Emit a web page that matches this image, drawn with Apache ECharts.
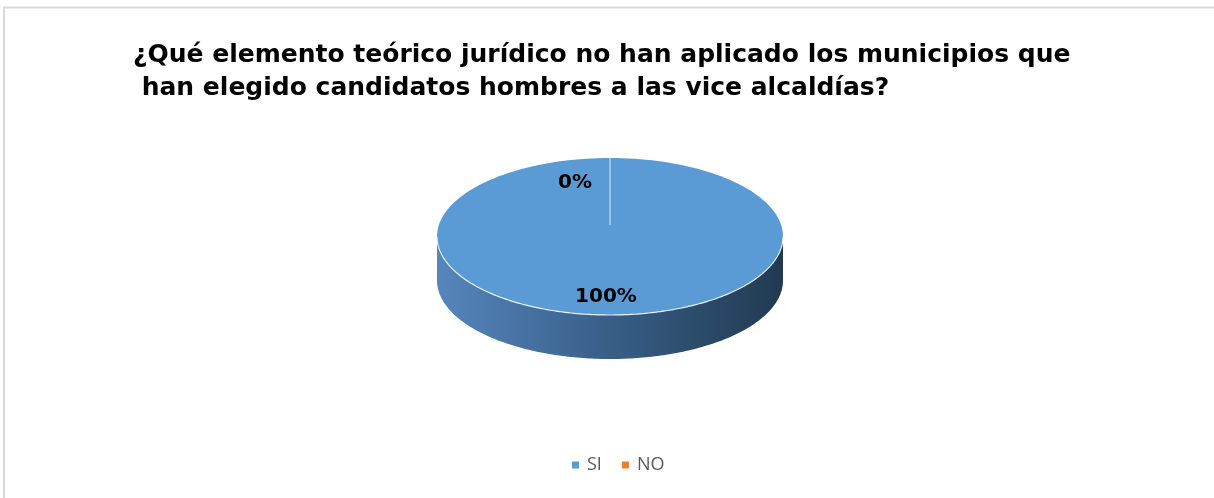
<!DOCTYPE html>
<html><head><meta charset="utf-8">
<script src="https://cdn.jsdelivr.net/npm/echarts@6.0.0/dist/echarts.min.js"></script>
<style>html,body{margin:0;padding:0;background:#fff}#c{width:1214px;height:498px}</style>
</head><body><div id="c"></div>
<script>
// ---- data ----
const titleLines = ['¿Qué elemento teórico jurídico no han aplicado los municipios que', ' han elegido candidatos hombres a las vice alcaldías?'];
const categories = ['SI', 'NO'];
const values = [100, 0];
const colors = ['#5b9bd5', '#ed7d31'];

// ---- derived ----
const total = values.reduce((a, b) => a + b, 0);
const starts = [];
let acc = 0;
values.forEach(v => { starts.push(acc); acc += v; });

// pseudo-3D pie geometry (layout only)
const G = { cx: 610, cy: 236.5, rx: 173, ry: 78.5, pcy: 225, depth: 44 };
function rim(phi, dy) {
  return [G.cx + G.rx * Math.sin(phi), G.cy - G.ry * Math.cos(phi) + (dy || 0)];
}
const sideGradient = {
  type: 'linear', x: G.cx - G.rx, y: 0, x2: G.cx + G.rx, y2: 0, global: true,
  colorStops: [
    { offset: 0, color: '#5586bd' },
    { offset: 0.5, color: '#385e87' },
    { offset: 1, color: '#213a51' }
  ]
};

function makeRender(i) {
  return function (params, api) {
    const v = api.value(0);
    const a0 = starts[i] / total * 2 * Math.PI;
    const a1 = (starts[i] + v) / total * 2 * Math.PI;
    const children = [];
    const n = 180;
    // side (front half only)
    const s0 = Math.max(a0, Math.PI / 2), s1 = Math.min(a1, 3 * Math.PI / 2);
    let frontTop = null;
    if (s1 > s0) {
      const top = [], bot = [];
      for (let k = 0; k <= n; k++) {
        const p = s0 + (s1 - s0) * k / n;
        top.push(rim(p)); bot.push(rim(p, G.depth));
      }
      frontTop = top;
      children.push({ type: 'polygon', shape: { points: top.concat(bot.slice().reverse()) },
        style: { fill: sideGradient } });
    }
    // top face
    if (v > 0) {
      const pts = [];
      const full = v >= total;
      if (!full) pts.push([G.cx, G.pcy]);
      for (let k = 0; k <= n; k++) pts.push(rim(a0 + (a1 - a0) * k / n));
      children.push({ type: 'polygon', shape: { points: pts }, style: { fill: api.visual('color') } });
    }
    if (frontTop) {
      children.push({ type: 'polyline', shape: { points: frontTop },
        style: { stroke: 'rgba(255,255,255,0.85)', lineWidth: 1.2, fill: null } });
    }
    // slice edge
    const e = rim(a0);
    children.push({ type: 'line', shape: { x1: G.cx, y1: G.pcy, x2: e[0], y2: e[1] },
      style: { stroke: 'rgba(255,255,255,0.45)', lineWidth: 1 } });
    // label
    const m = (a0 + a1) / 2;
    const r = rim(m);
    const txt = Math.round(v / total * 100) + '%';
    let lx, ly, align;
    if (v > 0) {
      lx = G.cx + 0.8 * (r[0] - G.cx) - 4; ly = G.pcy + 0.8 * (r[1] - G.pcy); align = 'center';
    } else {
      lx = G.cx + 0.63 * (r[0] - G.cx) - 18; ly = G.pcy + 0.63 * (r[1] - G.pcy); align = 'right';
    }
    children.push({ type: 'text', x: lx, y: ly,
      style: { text: txt, fill: '#000', font: 'bold 20px "DejaVu Sans"', align: align, verticalAlign: 'middle' } });
    return { type: 'group', children: children };
  };
}

const chart = echarts.init(document.getElementById('c'), null, { renderer: 'canvas' });
chart.setOption({
  animation: false,
  backgroundColor: '#fff',
  title: {
    text: titleLines.join('\n'),
    left: 133, top: 39, padding: 0,
    textStyle: { fontFamily: '"DejaVu Sans"', fontWeight: 'bold', fontSize: 25, lineHeight: 33, color: '#000' }
  },
  legend: {
    data: categories, left: 572, top: 456, padding: 0,
    icon: 'rect', itemWidth: 7, itemHeight: 7, itemGap: 20,
    textStyle: { fontFamily: '"Open Sans"', fontSize: 18, color: '#595959', padding: [0, 0, 0, 3] }
  },
  graphic: [{
    type: 'polyline', silent: true,
    shape: { points: [[4, 498], [4, 7.5], [1214, 7.5]] },
    style: { stroke: '#d9d9d9', lineWidth: 2, fill: null }
  }],
  series: categories.map((name, i) => ({
    type: 'custom', name: name, coordinateSystem: 'none', silent: true,
    itemStyle: { color: colors[i] },
    data: [[values[i]]],
    renderItem: makeRender(i)
  }))
});
</script></body></html>
